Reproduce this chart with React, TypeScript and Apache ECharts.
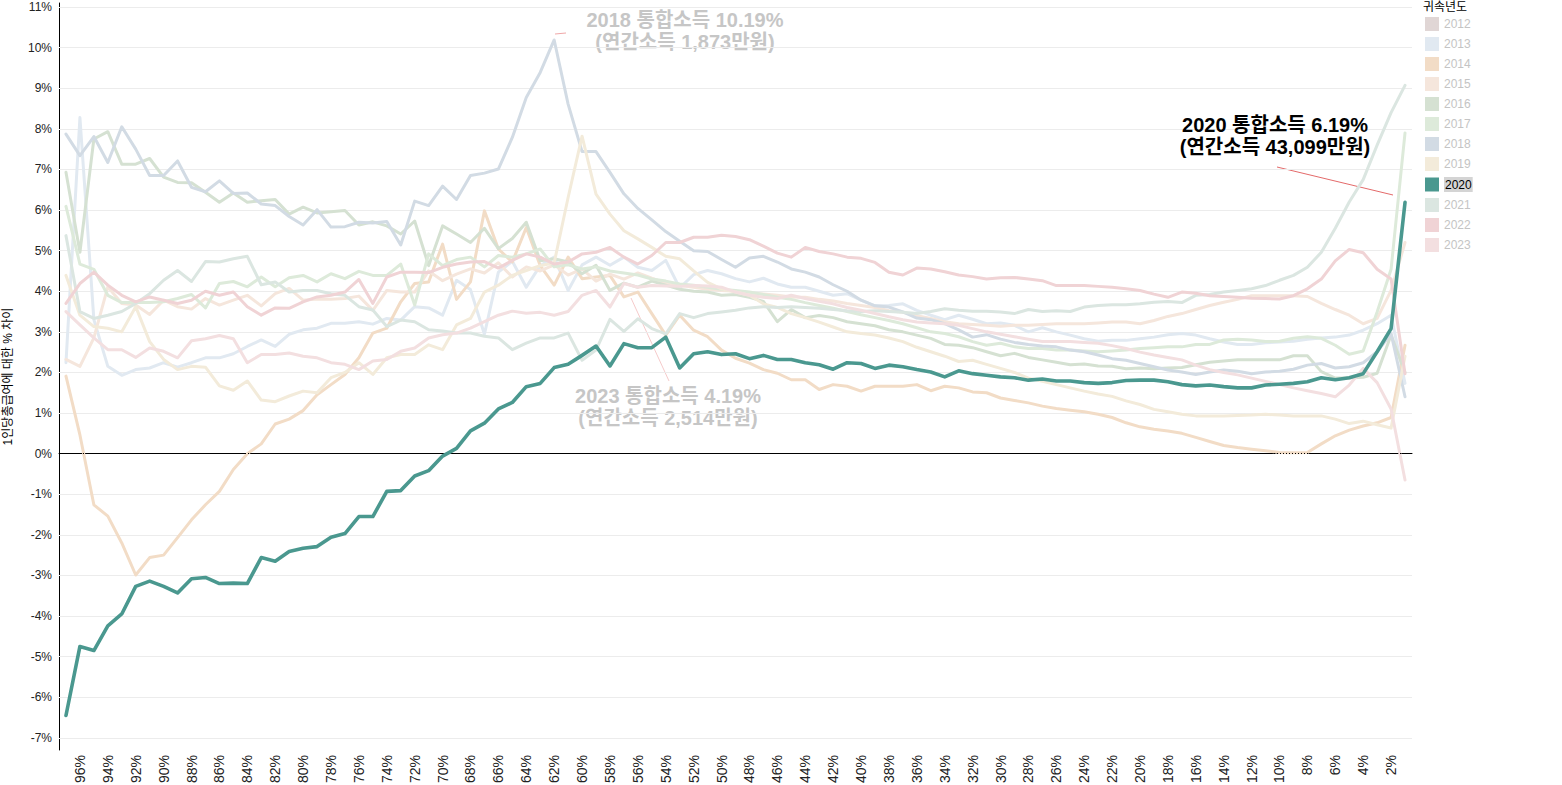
import { useEffect, useRef } from "react";
import * as echarts from "echarts";

// Categories: 97% down to 1% (top-income percentile)
const categories: string[] = Array.from({ length: 97 }, (_, i) => `${97 - i}%`);
const yTicks = [-7, -6, -5, -4, -3, -2, -1, 0, 1, 2, 3, 4, 5, 6, 7, 8, 9, 10, 11];

const years = ["2012", "2013", "2014", "2015", "2016", "2017", "2018", "2019", "2020", "2021", "2022", "2023"];

const v2012: (number | null)[] = [];
const v2013 = [
  2.24, 8.28, 3.3, 2.15, 1.93, 2.07, 2.11, 2.24, 2.13, 2.24,
  2.36, 2.36, 2.46, 2.64, 2.8, 2.64, 2.94, 3.05, 3.09, 3.21,
  3.21, 3.25, 3.19, 3.33, 3.29, 3.62, 3.59, 3.41, 4.27, 4.04,
  2.94, 4.47, 4.74, 4.1, 4.63, 4.84, 4.02, 4.65, 4.84, 4.64,
  4.84, 4.59, 4.51, 4.76, 4.08, 4.41, 4.51, 4.43, 4.31, 4.23,
  4.32, 4.18, 4.1, 4.1, 4.0, 3.9, 3.94, 3.78, 3.64, 3.65,
  3.69, 3.53, 3.41, 3.3, 3.41, 3.31, 3.2, 3.22, 3.16, 3.0,
  3.1, 3.0, 2.92, 2.83, 2.77, 2.79, 2.79, 2.83, 2.87, 2.93,
  2.96, 2.92, 2.83, 2.75, 2.69, 2.69, 2.73, 2.75, 2.77, 2.82,
  2.85, 2.87, 2.92, 3.04, 3.2, 3.41, 1.73,
];
const v2014 = [
  1.91, 0.46, -1.26, -1.54, -2.2, -2.99, -2.56, -2.5, -2.07, -1.63,
  -1.26, -0.93, -0.39, 0.0, 0.24, 0.73, 0.85, 1.06, 1.45, 1.7,
  1.95, 2.36, 2.97, 3.09, 3.74, 4.19, 4.23, 5.16, 3.8, 4.23,
  5.98, 5.04, 4.72, 5.57, 4.63, 4.15, 4.84, 4.31, 4.35, 4.39,
  3.86, 3.98, 3.45, 2.92, 3.41, 3.04, 2.88, 2.55, 2.35, 2.23,
  2.07, 1.98, 1.82, 1.82, 1.58, 1.7, 1.66, 1.54, 1.66, 1.66,
  1.66, 1.7, 1.55, 1.66, 1.62, 1.52, 1.5, 1.37, 1.31, 1.25,
  1.17, 1.11, 1.07, 1.03, 0.97, 0.89, 0.76, 0.66, 0.6, 0.56,
  0.5, 0.4, 0.3, 0.2, 0.15, 0.11, 0.07, 0.03, 0.02, 0.03,
  0.24, 0.44, 0.58, 0.68, 0.76, 0.89, 2.67,
];
const v2015 = [
  2.32, 2.15, 2.85, 4.11, 3.7, 3.66, 3.43, 3.78, 3.62, 3.56,
  3.82, 3.66, 3.78, 3.9, 3.64, 3.94, 4.07, 3.78, 3.81, 3.8,
  3.82, 3.88, 3.53, 4.02, 3.98, 3.98, 4.5, 4.26, 4.42, 4.55,
  4.45, 4.7, 4.35, 4.6, 4.5, 4.65, 4.4, 4.55, 4.25, 4.42,
  4.3, 4.45, 4.32, 4.2, 4.15, 4.1, 4.05, 4.02, 4.0, 3.95,
  3.93, 3.9, 3.86, 3.85, 3.8, 3.76, 3.7, 3.65, 3.6, 3.52,
  3.48, 3.4, 3.33, 3.25, 3.2, 3.18, 3.16, 3.14, 3.16, 3.16,
  3.18, 3.2, 3.2, 3.2, 3.22, 3.24, 3.24, 3.2, 3.28, 3.38,
  3.45, 3.55, 3.65, 3.73, 3.8, 3.89, 3.89, 3.89, 3.89, 3.87,
  3.7, 3.55, 3.41, 3.2, 3.33, 4.02, 5.2,
];
const v2016 = [
  6.93, 4.96, 7.75, 7.93, 7.13, 7.13, 7.27, 6.81, 6.68, 6.67,
  6.44, 6.19, 6.42, 6.19, 6.23, 6.26, 5.9, 6.07, 5.93, 5.96,
  5.99, 5.63, 5.71, 5.61, 5.41, 5.73, 4.63, 5.61, 5.41, 5.2,
  5.55, 5.05, 5.3, 5.7, 4.75, 4.8, 4.72, 4.43, 4.64, 4.02,
  4.2, 4.1, 4.25, 4.15, 4.05, 4.0, 3.98, 3.9, 3.92, 3.85,
  3.75, 3.25, 3.55, 3.35, 3.4, 3.35, 3.25, 3.2, 3.15, 3.05,
  3.0, 2.92, 2.84, 2.69, 2.67, 2.61, 2.51, 2.41, 2.47, 2.37,
  2.31, 2.25, 2.19, 2.21, 2.16, 2.15, 2.09, 2.11, 2.09, 2.11,
  2.12, 2.19, 2.25, 2.28, 2.31, 2.31, 2.31, 2.31, 2.41, 2.41,
  2.02, 1.86, 1.86, 1.88, 1.98, 2.92, 2.0,
];
const v2017 = [
  6.09, 4.67, 4.54, 3.9, 3.72, 3.72, 3.72, 3.74, 3.82, 3.92,
  3.59, 4.19, 4.24, 4.11, 4.35, 4.11, 4.33, 4.39, 4.23, 4.43,
  4.31, 4.49, 4.39, 4.39, 4.67, 3.66, 4.92, 4.63, 4.78, 4.84,
  4.6, 4.88, 4.84, 4.92, 5.04, 4.6, 4.65, 4.55, 4.6, 4.5,
  4.45, 4.4, 4.3, 4.25, 4.18, 4.15, 4.1, 4.05, 4.02, 3.98,
  3.92, 3.85, 3.8, 3.72, 3.65, 3.58, 3.5, 3.42, 3.35, 3.28,
  3.2, 3.1, 3.0, 2.96, 2.88, 2.76, 2.67, 2.72, 2.63, 2.59,
  2.59, 2.55, 2.55, 2.53, 2.51, 2.53, 2.55, 2.59, 2.61, 2.63,
  2.63, 2.69, 2.69, 2.8, 2.82, 2.8, 2.76, 2.77, 2.84, 2.88,
  2.84, 2.67, 2.45, 2.53, 3.49, 4.54, 7.9,
];
const v2018 = [
  7.87, 7.34, 7.81, 7.17, 8.05, 7.5, 6.85, 6.85, 7.21, 6.56,
  6.45, 6.72, 6.41, 6.42, 6.15, 6.11, 5.84, 5.63, 6.01, 5.58,
  5.59, 5.7, 5.68, 5.72, 5.14, 6.22, 6.11, 6.59, 6.26, 6.85,
  6.91, 7.01, 7.79, 8.77, 9.39, 10.19, 8.61, 7.44, 7.44, 6.93,
  6.4, 6.04, 5.76, 5.47, 5.23, 5.0, 4.98, 4.78, 4.59, 4.82,
  4.86, 4.72, 4.55, 4.47, 4.35, 4.16, 4.0, 3.78, 3.64, 3.61,
  3.49, 3.34, 3.3, 3.2, 3.05, 2.87, 2.93, 2.82, 2.74, 2.69,
  2.65, 2.63, 2.55, 2.51, 2.43, 2.34, 2.3, 2.22, 2.14, 2.06,
  2.01, 1.95, 2.01, 2.06, 2.03, 1.97, 2.01, 2.03, 2.08, 2.18,
  2.22, 2.11, 2.14, 2.24, 2.51, 2.96, 1.4,
];
const v2019 = [
  4.39, 3.41, 3.13, 3.09, 3.0, 3.62, 2.76, 2.32, 2.07, 2.15,
  2.13, 1.67, 1.56, 1.79, 1.32, 1.28, 1.42, 1.54, 1.5, 1.87,
  2.0, 2.24, 1.95, 2.36, 2.44, 2.44, 2.68, 2.56, 3.17, 3.33,
  3.98, 4.15, 4.39, 4.51, 4.63, 4.7, 6.31, 7.82, 6.39, 5.9,
  5.49, 5.29, 5.08, 4.86, 4.8, 4.5, 4.22, 4.06, 3.98, 3.9,
  3.69, 3.6, 3.45, 3.35, 3.24, 3.12, 3.0, 2.96, 2.92, 2.85,
  2.76, 2.62, 2.51, 2.4, 2.27, 2.3, 2.2, 2.1, 2.0, 1.86,
  1.78, 1.7, 1.62, 1.54, 1.47, 1.41, 1.3, 1.21, 1.09, 1.03,
  0.97, 0.93, 0.93, 0.93, 0.94, 0.95, 0.97, 0.95, 0.93, 0.93,
  0.93, 0.85, 0.74, 0.8, 0.71, 0.63, 2.4,
];
const v2020 = [
  -6.45, -4.75, -4.85, -4.24, -3.95, -3.27, -3.14, -3.27, -3.43, -3.08,
  -3.05, -3.2, -3.19, -3.2, -2.56, -2.65, -2.41, -2.33, -2.29, -2.06,
  -1.97, -1.55, -1.55, -0.93, -0.91, -0.55, -0.42, -0.06, 0.13, 0.56,
  0.75, 1.1, 1.26, 1.65, 1.73, 2.12, 2.2, 2.42, 2.65, 2.16,
  2.71, 2.61, 2.61, 2.87, 2.11, 2.46, 2.51, 2.44, 2.46, 2.34,
  2.42, 2.32, 2.32, 2.24, 2.19, 2.08, 2.24, 2.22, 2.1, 2.18,
  2.14, 2.07, 2.01, 1.89, 2.04, 1.97, 1.93, 1.89, 1.87, 1.81,
  1.84, 1.79, 1.79, 1.75, 1.73, 1.75, 1.8, 1.81, 1.81, 1.77,
  1.7, 1.67, 1.69, 1.65, 1.62, 1.62, 1.69, 1.71, 1.73, 1.77,
  1.87, 1.82, 1.87, 1.97, 2.51, 3.08, 6.19,
];
const v2021 = [
  5.37, 3.5, 3.33, 3.41, 3.5, 3.7, 3.94, 4.27, 4.51, 4.24,
  4.73, 4.72, 4.8, 4.86, 4.16, 4.23, 3.98, 4.02, 4.02, 3.94,
  3.9, 3.62, 3.54, 3.13, 3.29, 3.25, 3.05, 3.02, 2.97, 2.97,
  2.89, 2.85, 2.56, 2.72, 2.85, 2.85, 2.97, 2.3, 2.55, 3.31,
  3.01, 3.32, 3.08, 2.95, 3.45, 3.35, 3.45, 3.49, 3.53, 3.59,
  3.62, 3.6, 3.62, 3.6, 3.58, 3.55, 3.52, 3.5, 3.52, 3.5,
  3.48, 3.45, 3.5, 3.57, 3.53, 3.51, 3.51, 3.49, 3.45, 3.55,
  3.5, 3.52, 3.5, 3.61, 3.65, 3.67, 3.67, 3.69, 3.73, 3.75,
  3.72, 3.9, 3.92, 3.98, 4.02, 4.06, 4.14, 4.27, 4.39, 4.59,
  4.96, 5.55, 6.2, 6.75, 7.6, 8.4, 9.07,
];
const v2022 = [
  3.7, 4.19, 4.47, 4.15, 3.9, 3.74, 3.86, 3.78, 3.7, 3.78,
  4.0, 3.9, 3.98, 3.62, 3.41, 3.59, 3.58, 3.74, 3.86, 3.9,
  3.98, 4.29, 3.7, 4.35, 4.47, 4.47, 4.46, 4.59, 4.67, 4.72,
  4.73, 4.57, 4.76, 4.92, 4.84, 4.67, 4.72, 4.92, 4.96, 5.08,
  4.84, 4.67, 4.88, 5.2, 5.2, 5.33, 5.33, 5.38, 5.35, 5.27,
  5.11, 4.94, 4.84, 5.08, 4.98, 4.92, 4.84, 4.81, 4.71, 4.47,
  4.4, 4.57, 4.55, 4.48, 4.4, 4.36, 4.3, 4.33, 4.34, 4.3,
  4.26, 4.14, 4.14, 4.14, 4.12, 4.1, 4.06, 4.02, 3.93, 3.85,
  3.98, 3.95, 3.89, 3.87, 3.85, 3.83, 3.82, 3.81, 3.89, 4.06,
  4.3, 4.75, 5.03, 4.95, 4.54, 4.3, 1.97,
];
const v2023 = [
  3.5, 3.17, 2.85, 2.56, 2.56, 2.37, 2.6, 2.52, 2.36, 2.78,
  2.83, 2.91, 2.83, 2.24, 2.44, 2.44, 2.48, 2.4, 2.36, 2.24,
  2.2, 2.07, 2.28, 2.32, 2.52, 2.6, 2.85, 2.93, 2.97, 3.09,
  3.25, 3.41, 3.51, 3.46, 3.48, 3.41, 3.5, 3.9, 4.02, 3.61,
  4.19, 4.1, 4.14, 4.13, 4.12, 4.14, 4.13, 4.1, 3.98, 3.9,
  3.85, 3.82, 3.9, 3.82, 3.75, 3.69, 3.6, 3.53, 3.45, 3.37,
  3.3, 3.24, 3.22, 3.2, 3.16, 3.08, 3.0, 2.94, 2.88, 2.82,
  2.76, 2.76, 2.76, 2.74, 2.72, 2.66, 2.59, 2.5, 2.43, 2.37,
  2.31, 2.18, 2.07, 2.0, 1.94, 1.86, 1.78, 1.7, 1.62, 1.55,
  1.48, 1.4, 1.69, 2.1, 1.75, 1.1, -0.65,
];

const seriesValues: Record<string, (number | null)[]> = {
  "2012": v2012, "2013": v2013, "2014": v2014, "2015": v2015, "2016": v2016, "2017": v2017,
  "2018": v2018, "2019": v2019, "2020": v2020, "2021": v2021, "2022": v2022, "2023": v2023,
};

const yearColors: Record<string, string> = {
  "2012": "#e0d6d5", "2013": "#e1e9f1", "2014": "#f2dcc6", "2015": "#f5e6dc",
  "2016": "#d5e1d2", "2017": "#ddeada", "2018": "#d2dbe4", "2019": "#f3ebda",
  "2020": "#4a988f", "2021": "#dbe6e1", "2022": "#f0d3d5", "2023": "#f3dfe0",
};

const FONT = '"Liberation Sans", Arial, "Noto Sans CJK KR", sans-serif';

export default function App() {
  const ref = useRef<HTMLDivElement>(null);

  useEffect(() => {
    if (!ref.current) return;
    const chart = echarts.init(ref.current, undefined, { renderer: "svg" });

    const gridLines = yTicks
      .filter((t) => t !== 0)
      .map((t) => ({ yAxis: t, lineStyle: { color: "#ececec", width: 1, type: "solid" } }));
    const zeroLine = { yAxis: 0, lineStyle: { color: "#000", width: 1, type: [1, 2] } };

    const series: any[] = years.map((y) => {
      const isMain = y === "2020";
      const s: any = {
        name: y,
        type: "line",
        data: seriesValues[y],
        symbol: "none",
        showSymbol: false,
        color: yearColors[y],
        lineStyle: { width: isMain ? 3.6 : 3, color: yearColors[y], cap: "round", join: "round" },
        itemStyle: { color: yearColors[y] },
        emphasis: { disabled: true },
        z: isMain ? 10 : 3,
        silent: true,
      };
      if (y === "2013") {
        s.markLine = {
          silent: true,
          symbol: "none",
          z: 1,
          animation: false,
          label: { show: false },
          data: gridLines,
        };
      }
      if (y === "2020") {
        s.markLine = {
          silent: true,
          symbol: "none",
          animation: false,
          label: { show: false },
          data: [zeroLine],
        };
      }
      return s;
    });

    const annoStyle = {
      fontSize: 20,
      fontWeight: "bold",
      fontFamily: FONT,
      align: "center",
      verticalAlign: "middle",
      lineHeight: 22,
    };

    const option: any = {
      animation: false,
      backgroundColor: "#fff",
      textStyle: { fontFamily: FONT },
      grid: { left: 59, right: 150, top: 3, bottom: 35, containLabel: false, outerBoundsMode: "none" },
      xAxis: {
        type: "category",
        data: categories,
        boundaryGap: true,
        axisLine: { show: true, lineStyle: { color: "#000", width: 1 } },
        axisTick: { show: false },
        splitLine: { show: false },
        axisLabel: {
          rotate: 90,
          interval: (index: number) => index % 2 === 1,
          fontSize: 14,
          color: "#222",
          margin: 5,
          fontFamily: FONT,
        },
      },
      yAxis: {
        type: "value",
        min: -7.3,
        max: 11.1,
        name: "1인당총급여에 대한 % 차이",
        nameLocation: "middle",
        nameGap: 45,
        nameTextStyle: { color: "#000", fontSize: 12, fontFamily: FONT },
        axisLine: { show: true, lineStyle: { color: "#000", width: 1 } },
        axisTick: { show: false, customValues: yTicks },
        splitLine: { show: false },
        axisLabel: {
          customValues: yTicks,
          formatter: (v: number) => `${v}%`,
          color: "#222",
          fontSize: 12,
          margin: 7,
          fontFamily: FONT,
        },
      },
      legend: {
        orient: "vertical",
        left: 1425,
        top: 17,
        padding: 0,
        itemWidth: 14,
        itemHeight: 14,
        itemGap: 6,
        icon: "rect",
        selectedMode: false,
        textStyle: { color: "#c4c4c4", fontSize: 12, fontFamily: FONT },
        data: years.map((y) =>
          y === "2020"
            ? { name: y, textStyle: { color: "#000", backgroundColor: "#d4d4d4", padding: [2, 1, 1, 1] } }
            : { name: y }
        ),
      },
      graphic: [
        {
          type: "text",
          left: 1423,
          top: 1,
          silent: true,
          style: { text: "귀속년도", fill: "#000", fontSize: 12, fontFamily: FONT },
        },
        {
          type: "text",
          x: 685,
          y: 31,
          silent: true,
          style: { ...annoStyle, text: "2018 통합소득 10.19%\n(연간소득 1,873만원)", fill: "#c6c6c6" },
        },
        {
          type: "text",
          x: 668,
          y: 407,
          silent: true,
          style: { ...annoStyle, text: "2023 통합소득 4.19%\n(연간소득 2,514만원)", fill: "#c6c6c6" },
        },
        {
          type: "text",
          x: 1275,
          y: 136,
          silent: true,
          z: 20,
          style: { ...annoStyle, text: "2020 통합소득 6.19%\n(연간소득 43,099만원)", fill: "#000" },
        },
        {
          type: "line",
          silent: true,
          shape: { x1: 1277, y1: 167, x2: 1393, y2: 195 },
          style: { stroke: "#e46a6a", lineWidth: 1 },
        },
        {
          type: "line",
          silent: true,
          shape: { x1: 555, y1: 34, x2: 566, y2: 33 },
          style: { stroke: "#f0a8a8", lineWidth: 1 },
        },
        {
          type: "line",
          silent: true,
          shape: { x1: 631, y1: 298, x2: 669, y2: 381 },
          style: { stroke: "#f2bcbc", lineWidth: 0.8 },
        },
      ],
      series,
    };

    chart.setOption(option);
    return () => {
      chart.dispose();
    };
  }, []);

  return (
    <div
      ref={ref}
      style={{ position: "fixed", left: 0, top: 0, width: 1562, height: 785, background: "#fff" }}
    />
  );
}
